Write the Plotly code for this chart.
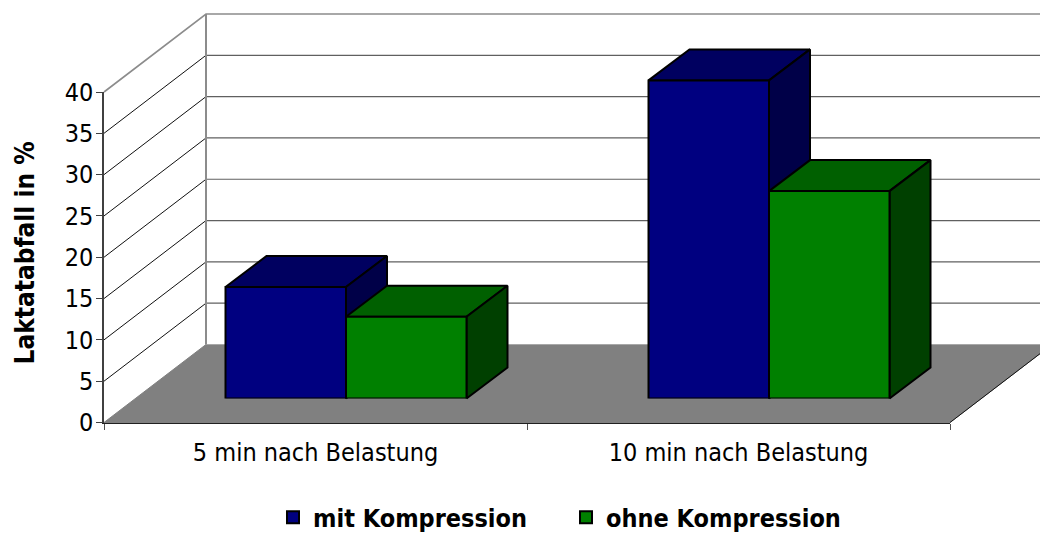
import plotly.graph_objects as go

categories = ["5 min nach Belastung", "10 min nach Belastung"]
mit_kompression = [13.5, 38.5]
ohne_kompression = [9.9, 25.1]
y_ticks = [0, 5, 10, 15, 20, 25, 30, 35, 40]

W, H = 1040, 533
FONT = "DejaVu Sans Condensed"

# Pixel frame of the visible axes and the scale derived from it
AX_LEFT, AX_RIGHT = 104, 950
AX_BOTTOM, AX_TOP = 422.5, 92
PX_PER_CAT = (AX_RIGHT - AX_LEFT) / 2
PX_PER_VAL = (AX_BOTTOM - AX_TOP) / 40

# Oblique projection: how far the room and the bars recede, in axis units
WALL_DX, WALL_DY = 102 / PX_PER_CAT, 78 / PX_PER_VAL
FRONT_DX, FRONT_DY = 30.5 / PX_PER_CAT, 24 / PX_PER_VAL
BAR_DX, BAR_DY = 41 / PX_PER_CAT, 31 / PX_PER_VAL
BAR_W = 120.5 / PX_PER_CAT

BLUE = ("#000080", "#000060", "#000048")
GREEN = ("#008000", "#006000", "#004000")


def xdom(a, b):
    return [a / W, b / W]


def ydom(bottom, top):
    return [(H - bottom) / H, (H - top) / H]


fig = go.Figure()


def line(xs, ys, color, width):
    fig.add_trace(go.Scatter(x=xs, y=ys, mode="lines", line=dict(color=color, width=width),
                             hoverinfo="skip", showlegend=False))


def poly(xs, ys, fill, lw=2, lc="#000000"):
    fig.add_trace(go.Scatter(x=xs + xs[:1], y=ys + ys[:1], mode="lines", fill="toself",
                             fillcolor=fill, line=dict(color=lc, width=lw),
                             hoverinfo="skip", showlegend=False))


# Floor
poly([0, 2, 2 + WALL_DX, WALL_DX], [0, 0, WALL_DY, WALL_DY], "#808080", 1, "#808080")
line([2, 2 + WALL_DX], [0, WALL_DY], "#101010", 1)
line([WALL_DX, 2 + WALL_DX + 0.1], [WALL_DY, WALL_DY], "#a8a8a8", 1)

# Side wall and back wall grid lines
for v in y_ticks[1:-1]:
    line([0, WALL_DX], [v, v + WALL_DY], "#101010", 1)
    line([WALL_DX, 2 + WALL_DX], [v + WALL_DY, v + WALL_DY], "#606060", 1.2)
top = y_ticks[-1]
line([0, WALL_DX, 2 + WALL_DX], [top, top + WALL_DY, top + WALL_DY], "#8c8c8c", 1.6)
line([WALL_DX, WALL_DX], [WALL_DY, top + WALL_DY], "#8c8c8c", 2)

# Top and side faces of each bar; the front faces are real bars on their own axes
for i in range(len(categories)):
    for k, (vals, cols) in enumerate(((mit_kompression, BLUE), (ohne_kompression, GREEN))):
        x0 = i + 0.5 + (k - 1) * BAR_W + FRONT_DX
        x1 = x0 + BAR_W
        y0 = FRONT_DY
        y1 = vals[i] + FRONT_DY
        poly([x0, x1, x1 + BAR_DX, x0 + BAR_DX], [y1, y1, y1 + BAR_DY, y1 + BAR_DY], cols[1])
        poly([x1, x1 + BAR_DX, x1 + BAR_DX, x1],
             [y0, y0 + BAR_DY, y1 + BAR_DY, y1], cols[2])

for name, vals, cols in (("mit Kompression", mit_kompression, BLUE),
                         ("ohne Kompression", ohne_kompression, GREEN)):
    fig.add_trace(go.Bar(x=categories, y=vals, name=name, xaxis="x2", yaxis="y2",
                         marker=dict(color=cols[0], line=dict(color="#000000", width=2)),
                         hoverinfo="x+y+name"))

# Carrier for the visible axes
fig.add_trace(go.Scatter(x=categories, y=mit_kompression, xaxis="x3", yaxis="y3", mode="markers",
                         marker=dict(opacity=0), hoverinfo="skip", showlegend=False))

hidden = dict(visible=False, fixedrange=True)
fig.update_layout(
    width=W, height=H, margin=dict(l=0, r=0, t=0, b=0, autoexpand=False),
    paper_bgcolor="#ffffff", plot_bgcolor="rgba(0,0,0,0)",
    font=dict(family=FONT, color="#000000"),
    barmode="group", bargap=1 - 2 * BAR_W, bargroupgap=0,
    xaxis=dict(domain=[0, 1], range=[-AX_LEFT / PX_PER_CAT, (W - AX_LEFT) / PX_PER_CAT], **hidden),
    yaxis=dict(domain=[0, 1], range=[-(H - AX_BOTTOM) / PX_PER_VAL, AX_BOTTOM / PX_PER_VAL], **hidden),
    xaxis2=dict(domain=xdom(AX_LEFT + 30.5, AX_RIGHT + 30.5), range=[-0.5, 1.5], anchor="y2",
                type="category", **hidden),
    yaxis2=dict(domain=ydom(AX_BOTTOM - 24, AX_TOP - 24), range=[0, 40], anchor="x2", **hidden),
    xaxis3=dict(domain=xdom(AX_LEFT, AX_RIGHT), range=[-0.5, 1.5], anchor="y3", type="category",
                tickson="boundaries", ticks="outside", ticklen=6, tickcolor="#505050", tickwidth=1,
                ticklabelstandoff=7,
                showline=True, linecolor="#202020", linewidth=1, showgrid=False, zeroline=False,
                tickfont=dict(size=25, family=FONT), fixedrange=True),
    yaxis3=dict(domain=ydom(AX_BOTTOM, AX_TOP), range=[0, 40], anchor="x3", tickvals=y_ticks,
                ticks="outside", ticklen=6, tickcolor="#404040", tickwidth=1,
                ticklabelstandoff=-2,
                showline=True, linecolor="#404040", linewidth=1.5, showgrid=False, zeroline=False,
                tickfont=dict(size=25, family=FONT), fixedrange=True),
    legend=dict(orientation="h", x=273 / W, xanchor="left", y=(H - 494.5) / H, yanchor="top",
                entrywidth=248, entrywidthmode="pixels", traceorder="normal",
                font=dict(size=25, family=FONT, weight=700), bgcolor="rgba(0,0,0,0)"),
    annotations=[dict(text="Laktatabfall in %", xref="paper", yref="paper", x=24 / W,
                      xanchor="center", yanchor="middle",
                      y=(H - 253.5) / H, textangle=-90, showarrow=False,
                      font=dict(size=26, family=FONT, weight=700))],
)

fig.write_html("out.html", config=dict(displayModeBar=False))
